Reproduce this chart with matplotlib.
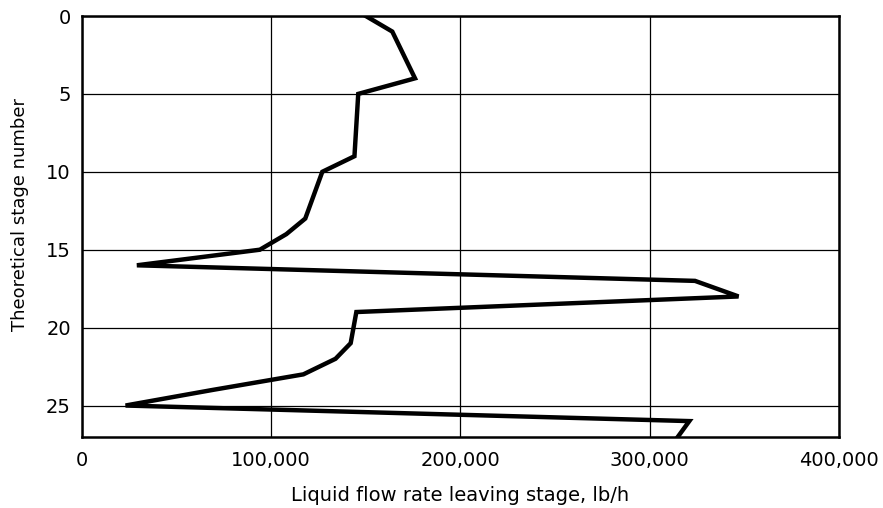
import matplotlib
matplotlib.use("Agg")
import matplotlib.pyplot as plt

stages = [0, 1, 4, 5, 9, 10, 13, 14, 15, 16, 17, 18, 19, 20, 21, 22, 23, 24, 25, 26, 27]
flow = [150000, 164000, 176000, 146000, 144000, 127000, 118000, 108000, 94000, 29000,
        324000, 347000, 145000, 143500, 142000, 134000, 117000, 69000, 23000, 321000, 315000]
x_ticks = [0, 100000, 200000, 300000, 400000]
x_tick_labels = ["0", "100,000", "200,000", "300,000", "400,000"]
y_ticks = [0, 5, 10, 15, 20, 25]

plt.rcParams['font.family'] = ['DejaVu Sans']

fig = plt.figure(figsize=(8.83, 5.08), dpi=100)
ax = fig.add_axes([0.0929, 0.1404, 0.857, 0.8281])
ax.plot(flow, stages, color='black', linewidth=3.2, solid_joinstyle='miter', zorder=3)
ax.set_xlim(0, 400000)
ax.set_ylim(27, 0)
ax.set_xticks(x_ticks)
ax.set_xticklabels(x_tick_labels)
ax.set_yticks(y_ticks)
ax.grid(True, color='black', linewidth=0.9)
ax.tick_params(axis='both', length=0)
ax.tick_params(axis='x', pad=10.5, labelsize=14)
ax.tick_params(axis='y', pad=8, labelsize=14)
for s in ax.spines.values():
    s.set_linewidth(1.8)
ax.set_xlabel("Liquid flow rate leaving stage, lb/h", fontsize=14, labelpad=11)
ax.set_ylabel("Theoretical stage number", fontsize=13, labelpad=12)
ax.yaxis.label.set_y(0.527)
fig.savefig("out.png", dpi=100, facecolor='white')
